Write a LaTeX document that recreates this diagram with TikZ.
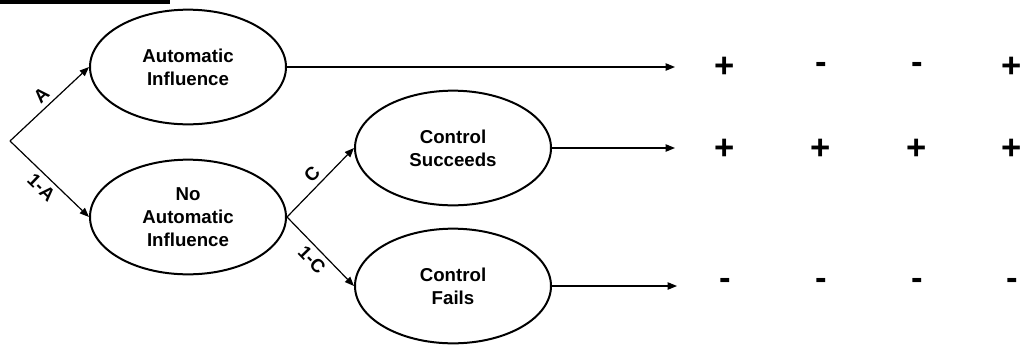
\documentclass[tikz,border=0pt]{standalone}
\usepackage{fontspec}
\setmainfont{Liberation Sans}
\usetikzlibrary{arrows.meta,shapes.geometric}

\begin{document}
\begin{tikzpicture}[x=0.75pt, y=-0.75pt, >={Triangle[length=7pt,width=5.5pt]},
	esito/.style={ellipse, draw, line width=1.5pt, minimum width=147pt, minimum height=86pt,
		inner sep=0pt, align=center, font=\bfseries\fontsize{14}{17}\selectfont},
	ramo/.style={->, line width=0.9pt},
	prob/.style={font=\bfseries\fontsize{14}{17}\selectfont, sloped, inner sep=3.5pt},
	segno/.style={font=\bfseries\fontsize{26}{30}\selectfont, inner sep=0pt}]

	\useasboundingbox (0,0) rectangle (1027,344);

	% barra in alto (titolo tagliato)
	\fill (0,0) rectangle (170,3.5);

	% nodi
	\coordinate (radice) at (10,141);
	\node[esito] (auto) at (188,67) {Automatic\\Influence};
	\node[esito] (noauto) at (188,217) {No\\Automatic\\Influence};
	\node[esito] (riesce) at (453,148) {Control\\Succeeds};
	\node[esito] (fallisce) at (453,286) {Control\\Fails};
	\coordinate (fine1) at (675,67);
	\coordinate (fine2) at (675,148);
	\coordinate (fine3) at (677,286);

	% rami
	\draw[ramo] (radice) -- node[prob, above] {A} (auto.west);
	\draw[ramo] (radice) -- node[prob, below] {1-A} (noauto.west);
	\draw[ramo] (noauto.east) -- node[prob, above] {C} (riesce.west);
	\draw[ramo] (noauto.east) -- node[prob, below] {1-C} (fallisce.west);

	% uscite
	\draw[ramo] (auto.east) -- (fine1);
	\draw[ramo] (riesce.east) -- (fine2);
	\draw[ramo] (fallisce.east) -- (fine3);

	% segni
	\node[segno] (s11) at (725,67) {+};
	\node[segno] (s12) at (821,68) {-};
	\node[segno] (s13) at (917,68) {-};
	\node[segno] (s14) at (1012,67) {+};
	\node[segno] (s21) at (725,149) {+};
	\node[segno] (s22) at (821,149) {+};
	\node[segno] (s23) at (917,149) {+};
	\node[segno] (s24) at (1012,149) {+};
	\node[segno] (s31) at (725,284) {-};
	\node[segno] (s32) at (821,284) {-};
	\node[segno] (s33) at (917,284) {-};
	\node[segno] (s34) at (1012,284) {-};
\end{tikzpicture}
\end{document}
